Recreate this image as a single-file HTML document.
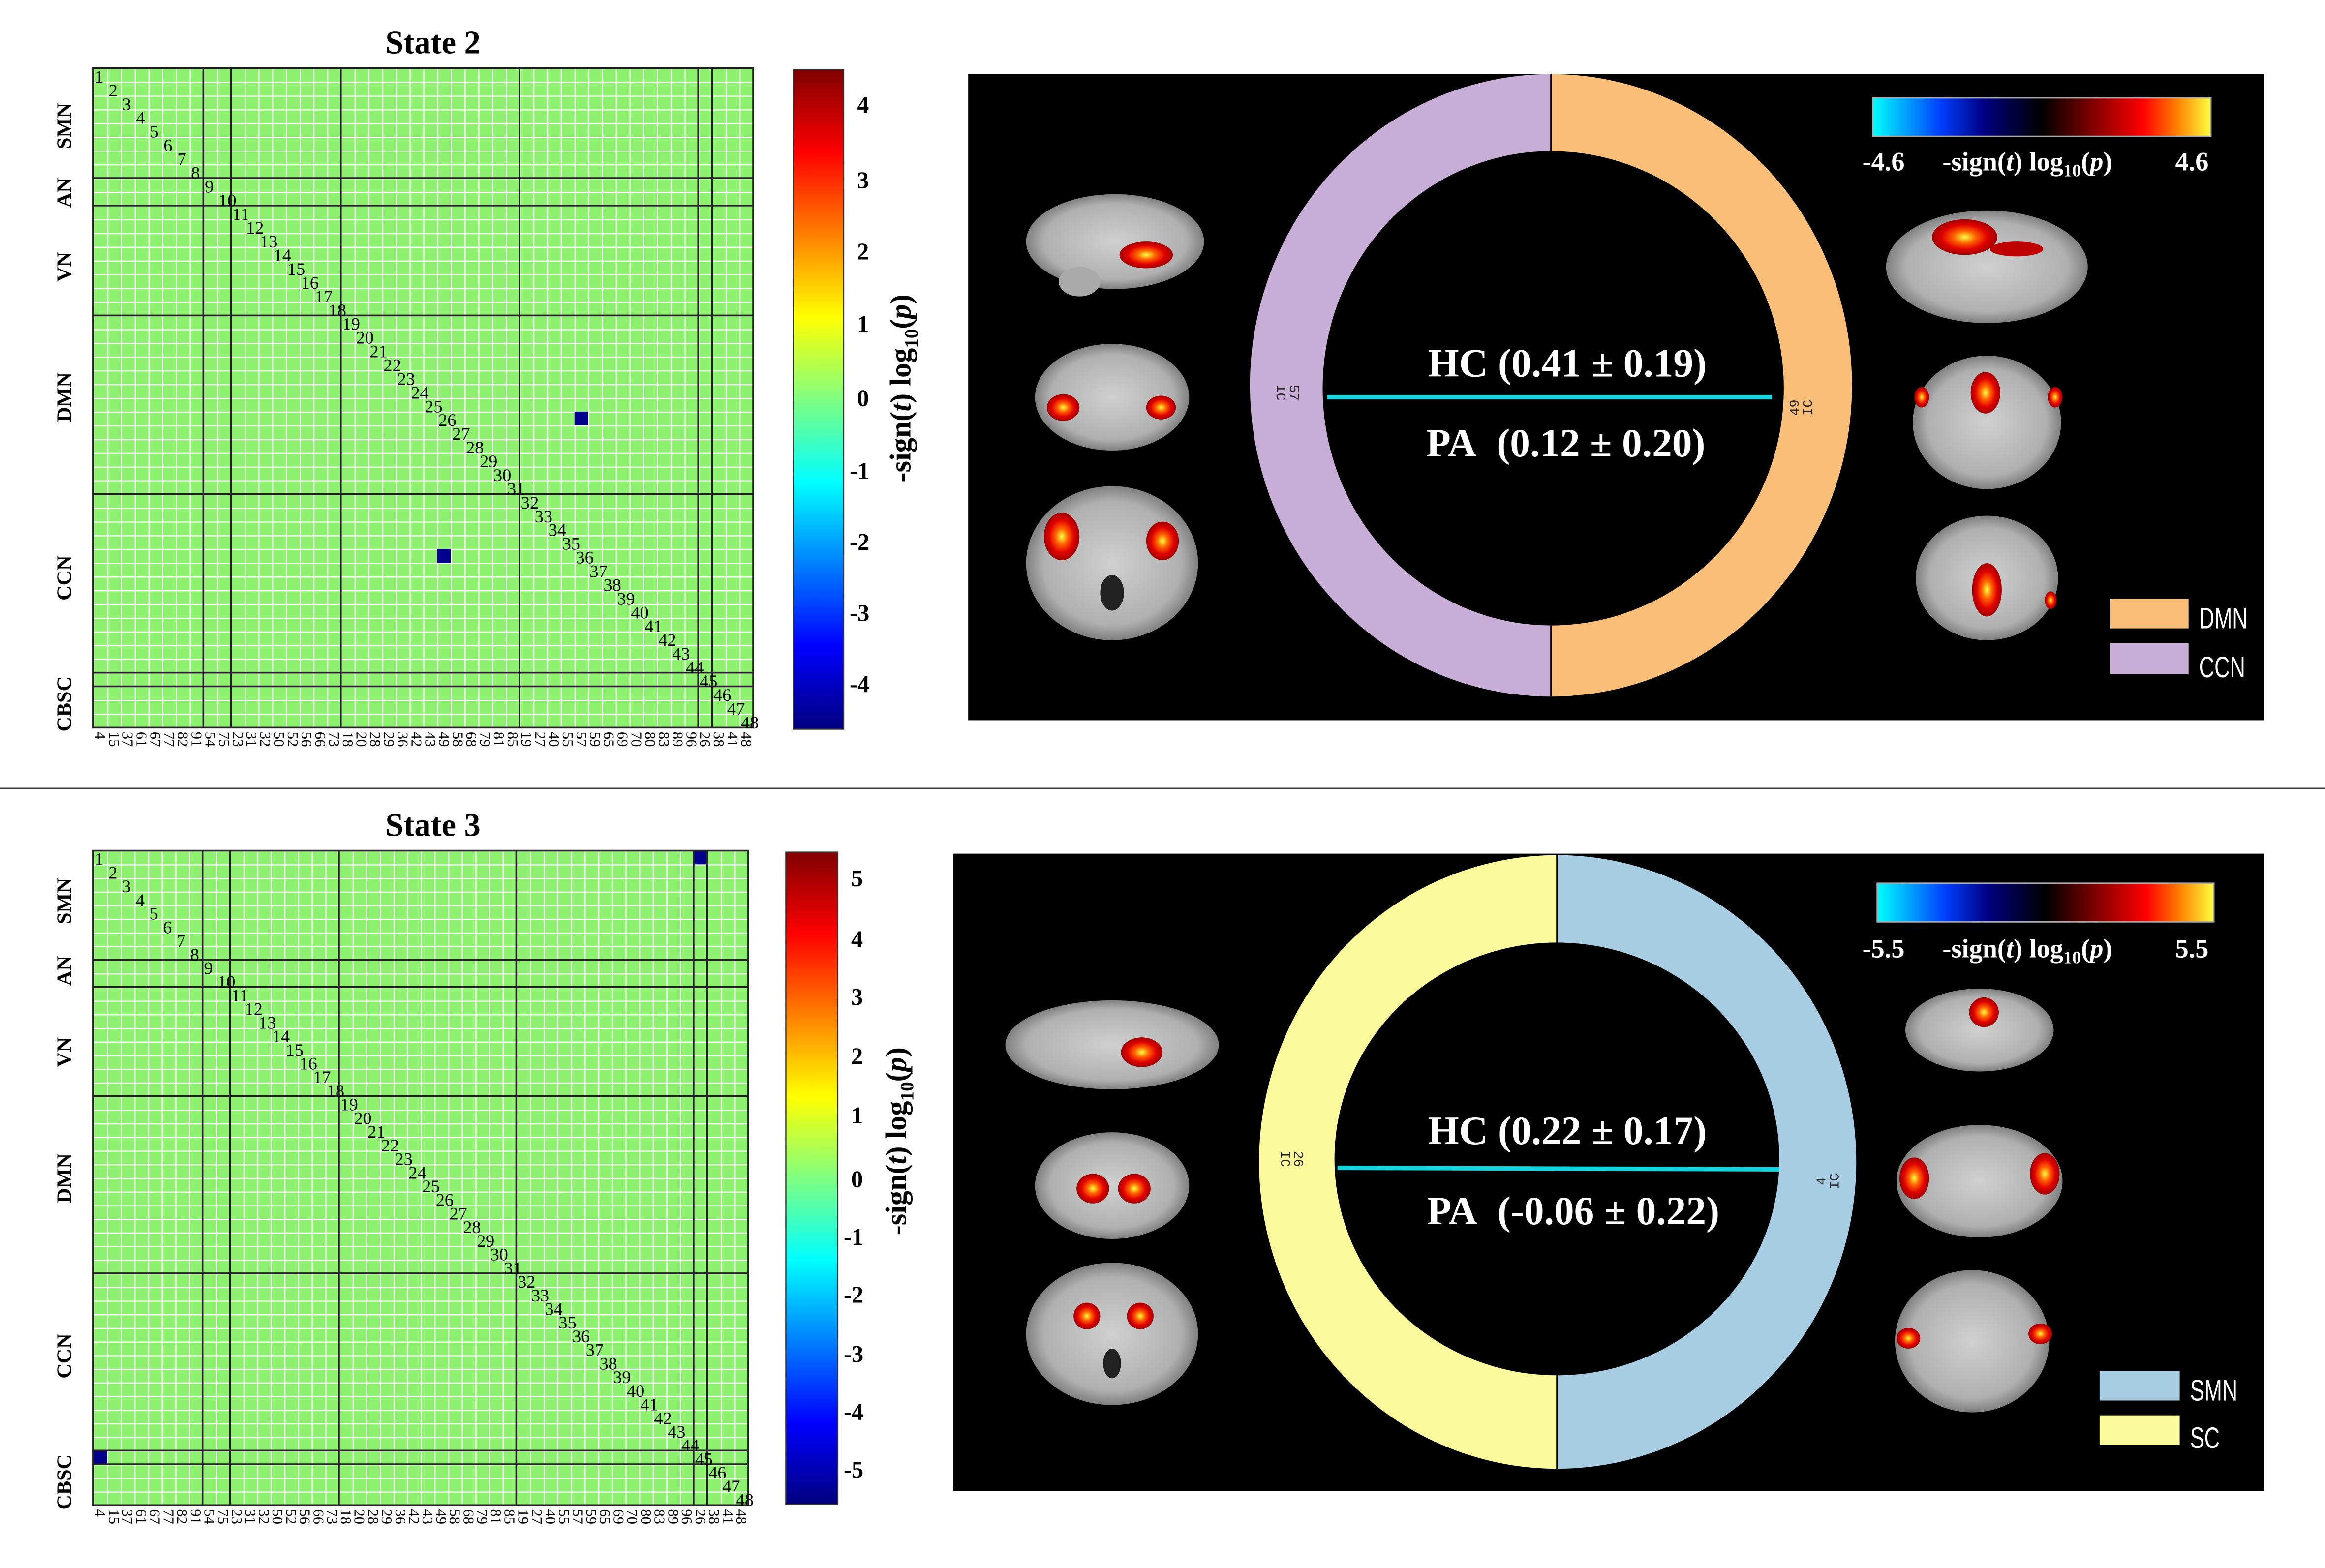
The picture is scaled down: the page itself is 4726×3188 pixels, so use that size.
<!DOCTYPE html>
<html><head><meta charset="utf-8"><style>
html,body{margin:0;padding:0;background:#fff;}
svg{display:block;}
.s{font-family:"Liberation Serif",serif;}
</style></head><body>
<svg width="4726" height="3188" viewBox="0 0 1568 1058" preserveAspectRatio="none" xmlns="http://www.w3.org/2000/svg" class="s">
<defs>
<pattern id="g2" width="1" height="1" patternUnits="userSpaceOnUse"><rect width="1" height="1" fill="#8ef270"/><path d="M0 0H1M0 0V1" stroke="#fff" stroke-width="0.16"/></pattern>
<linearGradient id="jet" x1="0" y1="0" x2="0" y2="1">
<stop offset="0" stop-color="#800000"/><stop offset="0.125" stop-color="#ff0000"/><stop offset="0.375" stop-color="#ffff00"/><stop offset="0.5" stop-color="#80ff80"/><stop offset="0.625" stop-color="#00ffff"/><stop offset="0.875" stop-color="#0000ff"/><stop offset="1" stop-color="#000080"/></linearGradient>
<linearGradient id="hot" x1="0" y1="0" x2="1" y2="0">
<stop offset="0" stop-color="#00ffff"/><stop offset="0.2" stop-color="#0040ff"/><stop offset="0.33" stop-color="#000080"/><stop offset="0.5" stop-color="#000"/><stop offset="0.65" stop-color="#800000"/><stop offset="0.8" stop-color="#ff0000"/><stop offset="0.9" stop-color="#ff8000"/><stop offset="1" stop-color="#ffff40"/></linearGradient>
<radialGradient id="blob"><stop offset="0" stop-color="#ffff40"/><stop offset="0.35" stop-color="#ff6000"/><stop offset="0.7" stop-color="#e00000"/><stop offset="1" stop-color="#a00000"/></radialGradient>
<radialGradient id="brain"><stop offset="0" stop-color="#d0d0d0"/><stop offset="0.8" stop-color="#b0b0b0"/><stop offset="1" stop-color="#808080"/></radialGradient>
</defs>
<rect width="1568" height="1058" fill="#fff"/>
<line x1="0" y1="532" x2="1568" y2="532" stroke="#333" stroke-width="1"/>

<!-- STATE 2 -->
<text x="292" y="36" font-size="22" font-weight="bold" text-anchor="middle">State 2</text>
<g font-size="14" font-weight="bold" text-anchor="middle">
<text transform="translate(48,85) rotate(-90)">SMN</text>
<text transform="translate(48,130) rotate(-90)">AN</text>
<text transform="translate(48,180) rotate(-90)">VN</text>
<text transform="translate(48,268) rotate(-90)">DMN</text>
<text transform="translate(48,390) rotate(-90)">CCN</text>
<text transform="translate(48,475) rotate(-90)">CBSC</text>
</g>
<g transform="translate(63,46) scale(9.27)">
<rect width="48" height="48" fill="url(#g2)"/>
<rect x="35" y="25" width="1" height="1" fill="#00008c"/>
<rect x="25" y="35" width="1" height="1" fill="#00008c"/>
<g stroke="#222" stroke-width="0.13">
<path d="M0 8H48M0 10H48M0 18H48M0 31H48M0 44H48M0 45H48M8 0V48M10 0V48M18 0V48M31 0V48M44 0V48M45 0V48"/>
<rect width="48" height="48" fill="none"/></g>
<g font-size="1.3">
<text x="0.1" y="1.05">1</text><text x="1.1" y="2.05">2</text><text x="2.1" y="3.05">3</text><text x="3.1" y="4.05">4</text><text x="4.1" y="5.05">5</text><text x="5.1" y="6.05">6</text><text x="6.1" y="7.05">7</text><text x="7.1" y="8.05">8</text><text x="8.1" y="9.05">9</text><text x="9.1" y="10.05">10</text><text x="10.1" y="11.05">11</text><text x="11.1" y="12.05">12</text><text x="12.1" y="13.05">13</text><text x="13.1" y="14.05">14</text><text x="14.1" y="15.05">15</text><text x="15.1" y="16.05">16</text><text x="16.1" y="17.05">17</text><text x="17.1" y="18.05">18</text><text x="18.1" y="19.05">19</text><text x="19.1" y="20.05">20</text><text x="20.1" y="21.05">21</text><text x="21.1" y="22.05">22</text><text x="22.1" y="23.05">23</text><text x="23.1" y="24.05">24</text><text x="24.1" y="25.05">25</text><text x="25.1" y="26.05">26</text><text x="26.1" y="27.05">27</text><text x="27.1" y="28.05">28</text><text x="28.1" y="29.05">29</text><text x="29.1" y="30.05">30</text><text x="30.1" y="31.05">31</text><text x="31.1" y="32.05">32</text><text x="32.1" y="33.05">33</text><text x="33.1" y="34.05">34</text><text x="34.1" y="35.05">35</text><text x="35.1" y="36.05">36</text><text x="36.1" y="37.05">37</text><text x="37.1" y="38.05">38</text><text x="38.1" y="39.05">39</text><text x="39.1" y="40.05">40</text><text x="40.1" y="41.05">41</text><text x="41.1" y="42.05">42</text><text x="42.1" y="43.05">43</text><text x="43.1" y="44.05">44</text><text x="44.1" y="45.05">45</text><text x="45.1" y="46.05">46</text><text x="46.1" y="47.05">47</text><text x="47.1" y="48.05">48</text>
</g>
<g font-size="1.1" dominant-baseline="central">
<text transform="translate(0.5,48.3) rotate(90)">4</text><text transform="translate(1.5,48.3) rotate(90)">15</text><text transform="translate(2.5,48.3) rotate(90)">37</text><text transform="translate(3.5,48.3) rotate(90)">61</text><text transform="translate(4.5,48.3) rotate(90)">67</text><text transform="translate(5.5,48.3) rotate(90)">77</text><text transform="translate(6.5,48.3) rotate(90)">82</text><text transform="translate(7.5,48.3) rotate(90)">91</text><text transform="translate(8.5,48.3) rotate(90)">54</text><text transform="translate(9.5,48.3) rotate(90)">75</text><text transform="translate(10.5,48.3) rotate(90)">23</text><text transform="translate(11.5,48.3) rotate(90)">31</text><text transform="translate(12.5,48.3) rotate(90)">32</text><text transform="translate(13.5,48.3) rotate(90)">50</text><text transform="translate(14.5,48.3) rotate(90)">52</text><text transform="translate(15.5,48.3) rotate(90)">56</text><text transform="translate(16.5,48.3) rotate(90)">66</text><text transform="translate(17.5,48.3) rotate(90)">73</text><text transform="translate(18.5,48.3) rotate(90)">18</text><text transform="translate(19.5,48.3) rotate(90)">20</text><text transform="translate(20.5,48.3) rotate(90)">28</text><text transform="translate(21.5,48.3) rotate(90)">29</text><text transform="translate(22.5,48.3) rotate(90)">36</text><text transform="translate(23.5,48.3) rotate(90)">42</text><text transform="translate(24.5,48.3) rotate(90)">43</text><text transform="translate(25.5,48.3) rotate(90)">49</text><text transform="translate(26.5,48.3) rotate(90)">58</text><text transform="translate(27.5,48.3) rotate(90)">68</text><text transform="translate(28.5,48.3) rotate(90)">79</text><text transform="translate(29.5,48.3) rotate(90)">81</text><text transform="translate(30.5,48.3) rotate(90)">85</text><text transform="translate(31.5,48.3) rotate(90)">19</text><text transform="translate(32.5,48.3) rotate(90)">27</text><text transform="translate(33.5,48.3) rotate(90)">40</text><text transform="translate(34.5,48.3) rotate(90)">55</text><text transform="translate(35.5,48.3) rotate(90)">57</text><text transform="translate(36.5,48.3) rotate(90)">59</text><text transform="translate(37.5,48.3) rotate(90)">65</text><text transform="translate(38.5,48.3) rotate(90)">69</text><text transform="translate(39.5,48.3) rotate(90)">70</text><text transform="translate(40.5,48.3) rotate(90)">80</text><text transform="translate(41.5,48.3) rotate(90)">83</text><text transform="translate(42.5,48.3) rotate(90)">89</text><text transform="translate(43.5,48.3) rotate(90)">96</text><text transform="translate(44.5,48.3) rotate(90)">26</text><text transform="translate(45.5,48.3) rotate(90)">38</text><text transform="translate(46.5,48.3) rotate(90)">41</text><text transform="translate(47.5,48.3) rotate(90)">48</text>
</g>
</g>
<rect x="535" y="47" width="34" height="445" fill="url(#jet)" stroke="#333" stroke-width="0.8"/>
<g font-size="16" font-weight="bold">
<text x="578" y="76">4</text><text x="578" y="127">3</text><text x="578" y="175">2</text><text x="578" y="224">1</text><text x="578" y="274">0</text><text x="573" y="323">-1</text><text x="573" y="371">-2</text><text x="573" y="419">-3</text><text x="573" y="467">-4</text>
</g>
<text transform="translate(614,262) rotate(-90)" font-size="20" font-weight="bold" text-anchor="middle">-sign(<tspan font-style="italic">t</tspan>) log<tspan font-size="13" dy="5">10</tspan><tspan dy="-5">(</tspan><tspan font-style="italic">p</tspan>)</text>

<!-- STATE 3 -->
<text x="292" y="564" font-size="22" font-weight="bold" text-anchor="middle">State 3</text>
<g font-size="14" font-weight="bold" text-anchor="middle">
<text transform="translate(48,608) rotate(-90)">SMN</text>
<text transform="translate(48,655) rotate(-90)">AN</text>
<text transform="translate(48,710) rotate(-90)">VN</text>
<text transform="translate(48,795) rotate(-90)">DMN</text>
<text transform="translate(48,915) rotate(-90)">CCN</text>
<text transform="translate(48,1000) rotate(-90)">CBSC</text>
</g>
<g transform="translate(63,574) scale(9.2)">
<rect width="48" height="48" fill="url(#g2)"/>
<rect x="44" y="0" width="1" height="1" fill="#00008c"/>
<rect x="0" y="44" width="1" height="1" fill="#00008c"/>
<g stroke="#222" stroke-width="0.13">
<path d="M0 8H48M0 10H48M0 18H48M0 31H48M0 44H48M0 45H48M8 0V48M10 0V48M18 0V48M31 0V48M44 0V48M45 0V48"/>
<rect width="48" height="48" fill="none"/></g>
<g font-size="1.3">
<text x="0.1" y="1.05">1</text><text x="1.1" y="2.05">2</text><text x="2.1" y="3.05">3</text><text x="3.1" y="4.05">4</text><text x="4.1" y="5.05">5</text><text x="5.1" y="6.05">6</text><text x="6.1" y="7.05">7</text><text x="7.1" y="8.05">8</text><text x="8.1" y="9.05">9</text><text x="9.1" y="10.05">10</text><text x="10.1" y="11.05">11</text><text x="11.1" y="12.05">12</text><text x="12.1" y="13.05">13</text><text x="13.1" y="14.05">14</text><text x="14.1" y="15.05">15</text><text x="15.1" y="16.05">16</text><text x="16.1" y="17.05">17</text><text x="17.1" y="18.05">18</text><text x="18.1" y="19.05">19</text><text x="19.1" y="20.05">20</text><text x="20.1" y="21.05">21</text><text x="21.1" y="22.05">22</text><text x="22.1" y="23.05">23</text><text x="23.1" y="24.05">24</text><text x="24.1" y="25.05">25</text><text x="25.1" y="26.05">26</text><text x="26.1" y="27.05">27</text><text x="27.1" y="28.05">28</text><text x="28.1" y="29.05">29</text><text x="29.1" y="30.05">30</text><text x="30.1" y="31.05">31</text><text x="31.1" y="32.05">32</text><text x="32.1" y="33.05">33</text><text x="33.1" y="34.05">34</text><text x="34.1" y="35.05">35</text><text x="35.1" y="36.05">36</text><text x="36.1" y="37.05">37</text><text x="37.1" y="38.05">38</text><text x="38.1" y="39.05">39</text><text x="39.1" y="40.05">40</text><text x="40.1" y="41.05">41</text><text x="41.1" y="42.05">42</text><text x="42.1" y="43.05">43</text><text x="43.1" y="44.05">44</text><text x="44.1" y="45.05">45</text><text x="45.1" y="46.05">46</text><text x="46.1" y="47.05">47</text><text x="47.1" y="48.05">48</text>
</g>
<g font-size="1.1" dominant-baseline="central">
<text transform="translate(0.5,48.3) rotate(90)">4</text><text transform="translate(1.5,48.3) rotate(90)">15</text><text transform="translate(2.5,48.3) rotate(90)">37</text><text transform="translate(3.5,48.3) rotate(90)">61</text><text transform="translate(4.5,48.3) rotate(90)">67</text><text transform="translate(5.5,48.3) rotate(90)">77</text><text transform="translate(6.5,48.3) rotate(90)">82</text><text transform="translate(7.5,48.3) rotate(90)">91</text><text transform="translate(8.5,48.3) rotate(90)">54</text><text transform="translate(9.5,48.3) rotate(90)">75</text><text transform="translate(10.5,48.3) rotate(90)">23</text><text transform="translate(11.5,48.3) rotate(90)">31</text><text transform="translate(12.5,48.3) rotate(90)">32</text><text transform="translate(13.5,48.3) rotate(90)">50</text><text transform="translate(14.5,48.3) rotate(90)">52</text><text transform="translate(15.5,48.3) rotate(90)">56</text><text transform="translate(16.5,48.3) rotate(90)">66</text><text transform="translate(17.5,48.3) rotate(90)">73</text><text transform="translate(18.5,48.3) rotate(90)">18</text><text transform="translate(19.5,48.3) rotate(90)">20</text><text transform="translate(20.5,48.3) rotate(90)">28</text><text transform="translate(21.5,48.3) rotate(90)">29</text><text transform="translate(22.5,48.3) rotate(90)">36</text><text transform="translate(23.5,48.3) rotate(90)">42</text><text transform="translate(24.5,48.3) rotate(90)">43</text><text transform="translate(25.5,48.3) rotate(90)">49</text><text transform="translate(26.5,48.3) rotate(90)">58</text><text transform="translate(27.5,48.3) rotate(90)">68</text><text transform="translate(28.5,48.3) rotate(90)">79</text><text transform="translate(29.5,48.3) rotate(90)">81</text><text transform="translate(30.5,48.3) rotate(90)">85</text><text transform="translate(31.5,48.3) rotate(90)">19</text><text transform="translate(32.5,48.3) rotate(90)">27</text><text transform="translate(33.5,48.3) rotate(90)">40</text><text transform="translate(34.5,48.3) rotate(90)">55</text><text transform="translate(35.5,48.3) rotate(90)">57</text><text transform="translate(36.5,48.3) rotate(90)">59</text><text transform="translate(37.5,48.3) rotate(90)">65</text><text transform="translate(38.5,48.3) rotate(90)">69</text><text transform="translate(39.5,48.3) rotate(90)">70</text><text transform="translate(40.5,48.3) rotate(90)">80</text><text transform="translate(41.5,48.3) rotate(90)">83</text><text transform="translate(42.5,48.3) rotate(90)">89</text><text transform="translate(43.5,48.3) rotate(90)">96</text><text transform="translate(44.5,48.3) rotate(90)">26</text><text transform="translate(45.5,48.3) rotate(90)">38</text><text transform="translate(46.5,48.3) rotate(90)">41</text><text transform="translate(47.5,48.3) rotate(90)">48</text>
</g>
</g>
<rect x="530" y="575" width="35" height="440" fill="url(#jet)" stroke="#333" stroke-width="0.8"/>
<g font-size="16" font-weight="bold">
<text x="574" y="598">5</text><text x="574" y="639">4</text><text x="574" y="678">3</text><text x="574" y="718">2</text><text x="574" y="758">1</text><text x="574" y="801">0</text><text x="569" y="840">-1</text><text x="569" y="879">-2</text><text x="569" y="919">-3</text><text x="569" y="958">-4</text><text x="569" y="997">-5</text>
</g>
<text transform="translate(611,770) rotate(-90)" font-size="20" font-weight="bold" text-anchor="middle">-sign(<tspan font-style="italic">t</tspan>) log<tspan font-size="13" dy="5">10</tspan><tspan dy="-5">(</tspan><tspan font-style="italic">p</tspan>)</text>

<!-- PANEL 1 -->
<rect x="653" y="50" width="874" height="436" fill="#000"/>
<path d="M1046 50 A203 210 0 0 0 1046 470 L1046 422 A154 160 0 0 1 1046 102 Z" fill="#c8aed6"/>
<path d="M1046 50 A203 210 0 0 1 1046 470 L1046 422 A157 160 0 0 0 1046 102 Z" fill="#f9bf78"/>
<line x1="1046" y1="50" x2="1046" y2="470" stroke="#000" stroke-width="1"/>
<line x1="895" y1="268" x2="1195" y2="268" stroke="#14d4de" stroke-width="3"/>
<text x="1057" y="254" font-size="27" font-weight="bold" fill="#fff" text-anchor="middle">HC (0.41 ± 0.19)</text>
<text x="1056" y="308" font-size="27" font-weight="bold" fill="#fff" text-anchor="middle">PA&#160; (0.12 ± 0.20)</text>
<text transform="translate(861,265) rotate(90)" font-size="9" font-family="Liberation Mono,monospace" text-anchor="middle" fill="#222">IC</text>
<text transform="translate(870,265) rotate(90)" font-size="9" font-family="Liberation Mono,monospace" text-anchor="middle" fill="#222">57</text>
<text transform="translate(1222,275) rotate(-90)" font-size="9" font-family="Liberation Mono,monospace" text-anchor="middle" fill="#222">IC</text>
<text transform="translate(1213,275) rotate(-90)" font-size="9" font-family="Liberation Mono,monospace" text-anchor="middle" fill="#222">49</text>
<rect x="1263" y="66" width="228" height="26" fill="url(#hot)" stroke="#aaa" stroke-width="1"/>
<g fill="#fff" font-size="18" font-weight="bold">
<text x="1256" y="115">-4.6</text>
<text x="1310" y="115">-sign(<tspan font-style="italic">t</tspan>) log<tspan font-size="12" dy="4">10</tspan><tspan dy="-4">(</tspan><tspan font-style="italic">p</tspan>)</text>
<text x="1467" y="115">4.6</text>
</g>
<rect x="1423" y="404" width="53" height="20" fill="#f9bf78"/>
<rect x="1423" y="434" width="53" height="21" fill="#c8aed6"/>
<g fill="#fff" font-size="20" font-family="Liberation Sans Narrow,Liberation Sans,sans-serif">
<text transform="translate(1483,424) scale(0.72,1)">DMN</text><text transform="translate(1483,457) scale(0.72,1)">CCN</text></g>
<!-- brains panel 1 -->
<ellipse cx="752" cy="163" rx="60" ry="32" fill="url(#brain)"/><ellipse cx="728" cy="190" rx="14" ry="10" fill="#aaa"/>
<ellipse cx="773" cy="172" rx="18" ry="9" fill="url(#blob)"/>
<ellipse cx="750" cy="268" rx="52" ry="36" fill="url(#brain)"/>
<ellipse cx="717" cy="275" rx="11" ry="9" fill="url(#blob)"/><ellipse cx="783" cy="275" rx="10" ry="8" fill="url(#blob)"/>
<ellipse cx="750" cy="380" rx="58" ry="52" fill="url(#brain)"/><ellipse cx="750" cy="400" rx="8" ry="12" fill="#222"/>
<ellipse cx="716" cy="362" rx="12" ry="16" fill="url(#blob)"/><ellipse cx="784" cy="365" rx="11" ry="13" fill="url(#blob)"/>
<ellipse cx="1340" cy="180" rx="68" ry="38" fill="url(#brain)"/><ellipse cx="1325" cy="160" rx="22" ry="12" fill="url(#blob)"/><ellipse cx="1360" cy="168" rx="18" ry="5" fill="#c00000"/>
<ellipse cx="1340" cy="285" rx="50" ry="45" fill="url(#brain)"/><ellipse cx="1339" cy="265" rx="10" ry="14" fill="url(#blob)"/><ellipse cx="1296" cy="268" rx="5" ry="7" fill="url(#blob)"/><ellipse cx="1386" cy="268" rx="5" ry="7" fill="url(#blob)"/>
<ellipse cx="1340" cy="390" rx="48" ry="42" fill="url(#brain)"/><ellipse cx="1340" cy="398" rx="10" ry="18" fill="url(#blob)"/><ellipse cx="1383" cy="405" rx="4" ry="6" fill="url(#blob)"/>

<!-- PANEL 2 -->
<rect x="643" y="576" width="884" height="430" fill="#000"/>
<path d="M1050 577 A201 207 0 0 0 1050 991 L1050 928 A150 146 0 0 1 1050 636 Z" fill="#fafa9c"/>
<path d="M1050 577 A202 207 0 0 1 1050 991 L1050 928 A150 146 0 0 0 1050 636 Z" fill="#a8cde2"/>
<line x1="1050" y1="577" x2="1050" y2="991" stroke="#000" stroke-width="1"/>
<line x1="902" y1="788" x2="1200" y2="789" stroke="#14d4de" stroke-width="3"/>
<text x="1057" y="772" font-size="27" font-weight="bold" fill="#fff" text-anchor="middle">HC (0.22 ± 0.17)</text>
<text x="1061" y="826" font-size="27" font-weight="bold" fill="#fff" text-anchor="middle">PA&#160; (-0.06 ± 0.22)</text>
<text transform="translate(864,782) rotate(90)" font-size="9" font-family="Liberation Mono,monospace" text-anchor="middle" fill="#222">IC</text>
<text transform="translate(873,782) rotate(90)" font-size="9" font-family="Liberation Mono,monospace" text-anchor="middle" fill="#222">26</text>
<text transform="translate(1240,797) rotate(-90)" font-size="9" font-family="Liberation Mono,monospace" text-anchor="middle" fill="#222">IC</text>
<text transform="translate(1231,797) rotate(-90)" font-size="9" font-family="Liberation Mono,monospace" text-anchor="middle" fill="#222">4</text>
<rect x="1266" y="596" width="227" height="26" fill="url(#hot)" stroke="#aaa" stroke-width="1"/>
<g fill="#fff" font-size="18" font-weight="bold">
<text x="1256" y="646">-5.5</text>
<text x="1310" y="646">-sign(<tspan font-style="italic">t</tspan>) log<tspan font-size="12" dy="4">10</tspan><tspan dy="-4">(</tspan><tspan font-style="italic">p</tspan>)</text>
<text x="1467" y="646">5.5</text>
</g>
<rect x="1416" y="925" width="54" height="20" fill="#a8cde2"/>
<rect x="1416" y="955" width="54" height="20" fill="#fafa9c"/>
<g fill="#fff" font-size="20" font-family="Liberation Sans Narrow,Liberation Sans,sans-serif">
<text transform="translate(1477,945) scale(0.72,1)">SMN</text><text transform="translate(1477,977) scale(0.72,1)">SC</text></g>
<ellipse cx="750" cy="705" rx="72" ry="30" fill="url(#brain)"/><ellipse cx="770" cy="710" rx="14" ry="10" fill="url(#blob)"/>
<ellipse cx="750" cy="800" rx="52" ry="36" fill="url(#brain)"/><ellipse cx="737" cy="802" rx="11" ry="10" fill="url(#blob)"/><ellipse cx="765" cy="802" rx="11" ry="10" fill="url(#blob)"/>
<ellipse cx="750" cy="900" rx="58" ry="48" fill="url(#brain)"/><ellipse cx="733" cy="888" rx="9" ry="9" fill="url(#blob)"/><ellipse cx="769" cy="888" rx="9" ry="9" fill="url(#blob)"/><ellipse cx="750" cy="920" rx="6" ry="10" fill="#222"/>
<ellipse cx="1335" cy="695" rx="50" ry="28" fill="url(#brain)"/><ellipse cx="1338" cy="683" rx="10" ry="10" fill="url(#blob)"/>
<ellipse cx="1335" cy="797" rx="56" ry="38" fill="url(#brain)"/><ellipse cx="1291" cy="795" rx="10" ry="14" fill="url(#blob)"/><ellipse cx="1379" cy="792" rx="10" ry="14" fill="url(#blob)"/>
<ellipse cx="1330" cy="905" rx="52" ry="48" fill="url(#brain)"/><ellipse cx="1287" cy="903" rx="8" ry="7" fill="url(#blob)"/><ellipse cx="1376" cy="900" rx="8" ry="7" fill="url(#blob)"/>
</svg>
</body></html>
